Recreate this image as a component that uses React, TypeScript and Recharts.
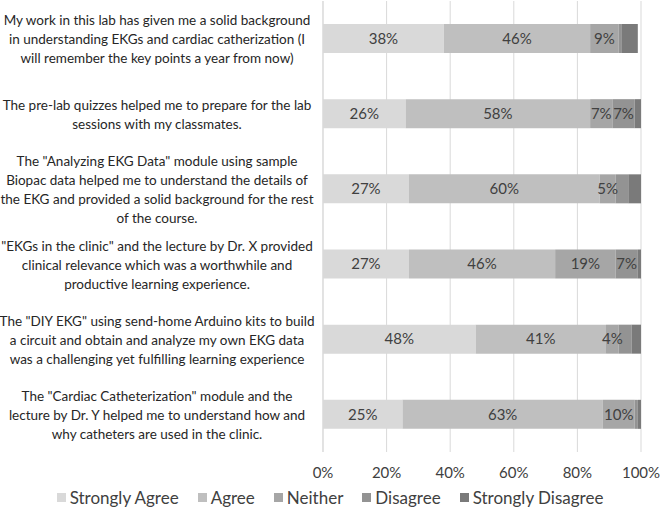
import React from "react";
import { BarChart, Bar, XAxis, YAxis, CartesianGrid, LabelList } from "recharts";

const statements = [
  "My work in this lab has given me a solid background\nin understanding EKGs and cardiac catherization (I\nwill remember the key points a year from now)",
  "The pre-lab quizzes helped me to prepare for the lab\nsessions with my classmates.",
  "The \"Analyzing EKG Data\" module using sample\nBiopac data helped me to understand the details of\nthe EKG and provided a solid background for the rest\nof the course.",
  "\"EKGs in the clinic\" and the lecture by Dr. X provided\nclinical relevance which was a worthwhile and\nproductive learning experience.",
  "The \"DIY EKG\" using send-home Arduino kits to build\na circuit and obtain and analyze my own EKG data\nwas a challenging yet fulfilling learning experience",
  "The \"Cardiac Catheterization\" module and the\nlecture by Dr. Y helped me to understand how and\nwhy catheters are used in the clinic.",
];

const stronglyAgree = [38, 26, 27, 27, 48, 25];
const agree = [46, 58, 60, 46, 41, 63];
const neither = [9, 7, 5, 19, 4, 10];
const disagree = [1, 7, 4, 7, 4, 1];
const stronglyDisagree = [5, 2, 4, 1, 3, 1];

const xTicks = [0, 20, 40, 60, 80, 100];

const series = [
  { key: "sa", name: "Strongly Agree", color: "#d9d9d9", minLabel: 4 },
  { key: "a", name: "Agree", color: "#bfbfbf", minLabel: 4 },
  { key: "n", name: "Neither", color: "#a6a6a6", minLabel: 4 },
  { key: "d", name: "Disagree", color: "#939393", minLabel: 5 },
  { key: "sd", name: "Strongly Disagree", color: "#7a7a7a", minLabel: 101 },
];

const rows = statements.map((s, i) => ({
  name: s,
  sa: stronglyAgree[i],
  a: agree[i],
  n: neither[i],
  d: disagree[i],
  sd: stronglyDisagree[i],
}));

const FONT = "Lato, 'Liberation Sans', sans-serif";

const StatementTick = (props: any) => {
  const { y, payload } = props;
  const lines: string[] = String(payload.value).split("\n");
  const lh = 19;
  const startY = y + 1 - ((lines.length - 1) * lh) / 2;
  return (
    <text x={157} y={startY} textAnchor="middle" fill="#262626" fontSize={13.5} fontFamily={FONT}>
      {lines.map((l, i) => (
        <tspan key={i} x={157} y={startY + i * lh} dy="0.35em">{l}</tspan>
      ))}
    </text>
  );
};

const makeLabel = (minLabel: number) => (props: any) => {
  const { x, y, width, height, value } = props;
  if (value == null || value < minLabel) return null;
  return (
    <text
      x={x + width / 2} y={y + height / 2} dy="0.35em"
      textAnchor="middle" fill="#404040" fontSize={15} fontFamily={FONT}
    >
      {value}%
    </text>
  );
};

const LegendRow = () => (
  <div style={{ position: "absolute", left: 0, top: 487, width: 660, display: "flex", justifyContent: "center", fontFamily: FONT, fontSize: 17, color: "#404040" }}>
    {series.map((s, i) => (
      <div key={s.key} style={{ display: "flex", alignItems: "center", marginRight: i < series.length - 1 ? 19 : 0 }}>
        <span style={{ width: 9, height: 9, background: s.color, marginRight: 4, display: "inline-block" }} />
        <span>{s.name}</span>
      </div>
    ))}
  </div>
);

export default function App() {
  return (
    <div style={{ position: "absolute", left: 0, top: 0, width: 660, height: 515, background: "#fff" }}>
      <BarChart
        width={660} height={515} data={rows} layout="vertical"
        margin={{ top: 1, right: 19, bottom: 33, left: 0 }}
      >
        <CartesianGrid horizontal={false} stroke="#d9d9d9" />
        <XAxis
          type="number" domain={[0, 100]} ticks={xTicks} tickFormatter={(v) => `${v}%`}
          axisLine={false} tickLine={false} tickMargin={9} height={30}
          tick={{ fontSize: 15, fill: "#404040", fontFamily: FONT }}
        />
        <YAxis
          type="category" dataKey="name" width={323}
          axisLine={{ stroke: "#d9d9d9" }} tickLine={false} tick={<StatementTick />}
        />
        {series.map((s) => (
          <Bar key={s.key} dataKey={s.key} name={s.name} stackId="x" fill={s.color} barSize={29} isAnimationActive={false}>
            <LabelList dataKey={s.key} content={makeLabel(s.minLabel)} />
          </Bar>
        ))}
      </BarChart>
      <LegendRow />
    </div>
  );
}
